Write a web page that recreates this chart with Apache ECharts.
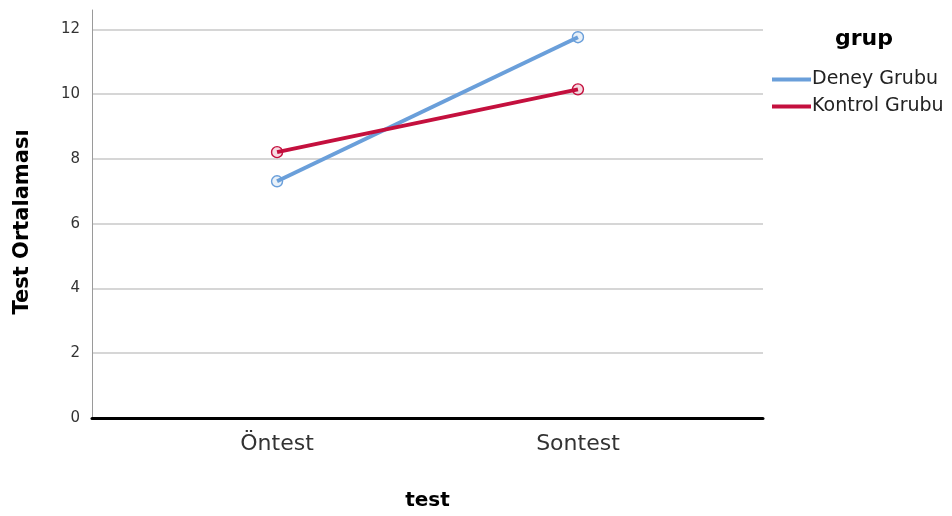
<!DOCTYPE html>
<html><head><meta charset="utf-8">
<script src="https://cdn.jsdelivr.net/npm/echarts@6/dist/echarts.min.js"></script>
<style>html,body{margin:0;padding:0;background:#fff}#c{width:952px;height:516px}</style>
</head><body><div id="c"></div>
<script>
var categories = ['Öntest', 'Sontest'];
var seriesNames = ['Deney Grubu', 'Kontrol Grubu'];
var deneyValues = [7.31, 11.76];
var kontrolValues = [8.21, 10.15];
var yTicks = [0, 2, 4, 6, 8, 10, 12];

function toPoints(vals){ return vals.map(function(v,i){ return [i+1, v]; }); }

var chart = echarts.init(document.getElementById('c'));
var font = 'DejaVu Sans, sans-serif';
var blue = '#6a9fda', red = '#c4103e';
chart.setOption({
  animation: false,
  backgroundColor: '#fff',
  title: { text: 'grup', left: 830, top: 23, textStyle: { fontFamily: font, fontSize: 22, fontWeight: 'bold', color: '#000' } },
  legend: {
    orient: 'vertical', left: 767, top: 65, itemGap: 8, itemWidth: 39, itemHeight: 4,
    icon: 'rect',
    textStyle: { fontFamily: font, fontSize: 19, color: '#222', padding: [0,0,0,-4] },
    data: [
      { name: seriesNames[0], itemStyle: { color: blue, borderWidth: 0 } },
      { name: seriesNames[1], itemStyle: { color: red, borderWidth: 0 } }
    ]
  },
  grid: { left: 92, right: 189, top: 10, bottom: 97 },
  xAxis: {
    type: 'value', min: 0.385, max: 2.615,
    name: 'test', nameLocation: 'middle', nameGap: 73,
    nameTextStyle: { fontFamily: font, fontSize: 20, fontWeight: 'bold', color: '#000' },
    axisLine: { show: true, onZero: false, lineStyle: { color: '#000', width: 3 } },
    axisTick: { show: false },
    splitLine: { show: false },
    axisLabel: {
      customValues: [1, 2], margin: 15,
      fontFamily: font, fontSize: 22, color: '#333',
      formatter: function(v){ return categories[Math.round(v)-1] || ''; }
    }
  },
  yAxis: {
    type: 'value', min: 0, max: 12.6,
    name: 'Test Ortalaması', nameLocation: 'middle', nameGap: 59,
    nameTextStyle: { fontFamily: font, fontSize: 21, fontWeight: 'bold', color: '#000', padding: [0, 16, 0, 0] },
    axisLine: { show: true, lineStyle: { color: '#9a9a9a', width: 1 } },
    axisTick: { show: false },
    axisLabel: { customValues: yTicks, fontFamily: font, fontSize: 15, color: '#333', margin: 12 },
    splitLine: { show: true, lineStyle: { color: '#c8c8c8', width: 1.5 }, showMaxLine: false, showMinLine: false },
    interval: 2
  },
  series: [
    { name: seriesNames[0], type: 'line', data: toPoints(deneyValues), symbol: 'circle', symbolSize: 11,
      color: blue,
      lineStyle: { width: 4, color: blue },
      itemStyle: { color: 'rgba(106,159,218,0.15)', borderColor: blue, borderWidth: 1.4 } },
    { name: seriesNames[1], type: 'line', data: toPoints(kontrolValues), symbol: 'circle', symbolSize: 11,
      color: red,
      lineStyle: { width: 4, color: red },
      itemStyle: { color: 'rgba(196,16,62,0.15)', borderColor: red, borderWidth: 1.4 } }
  ]
});
</script></body></html>
